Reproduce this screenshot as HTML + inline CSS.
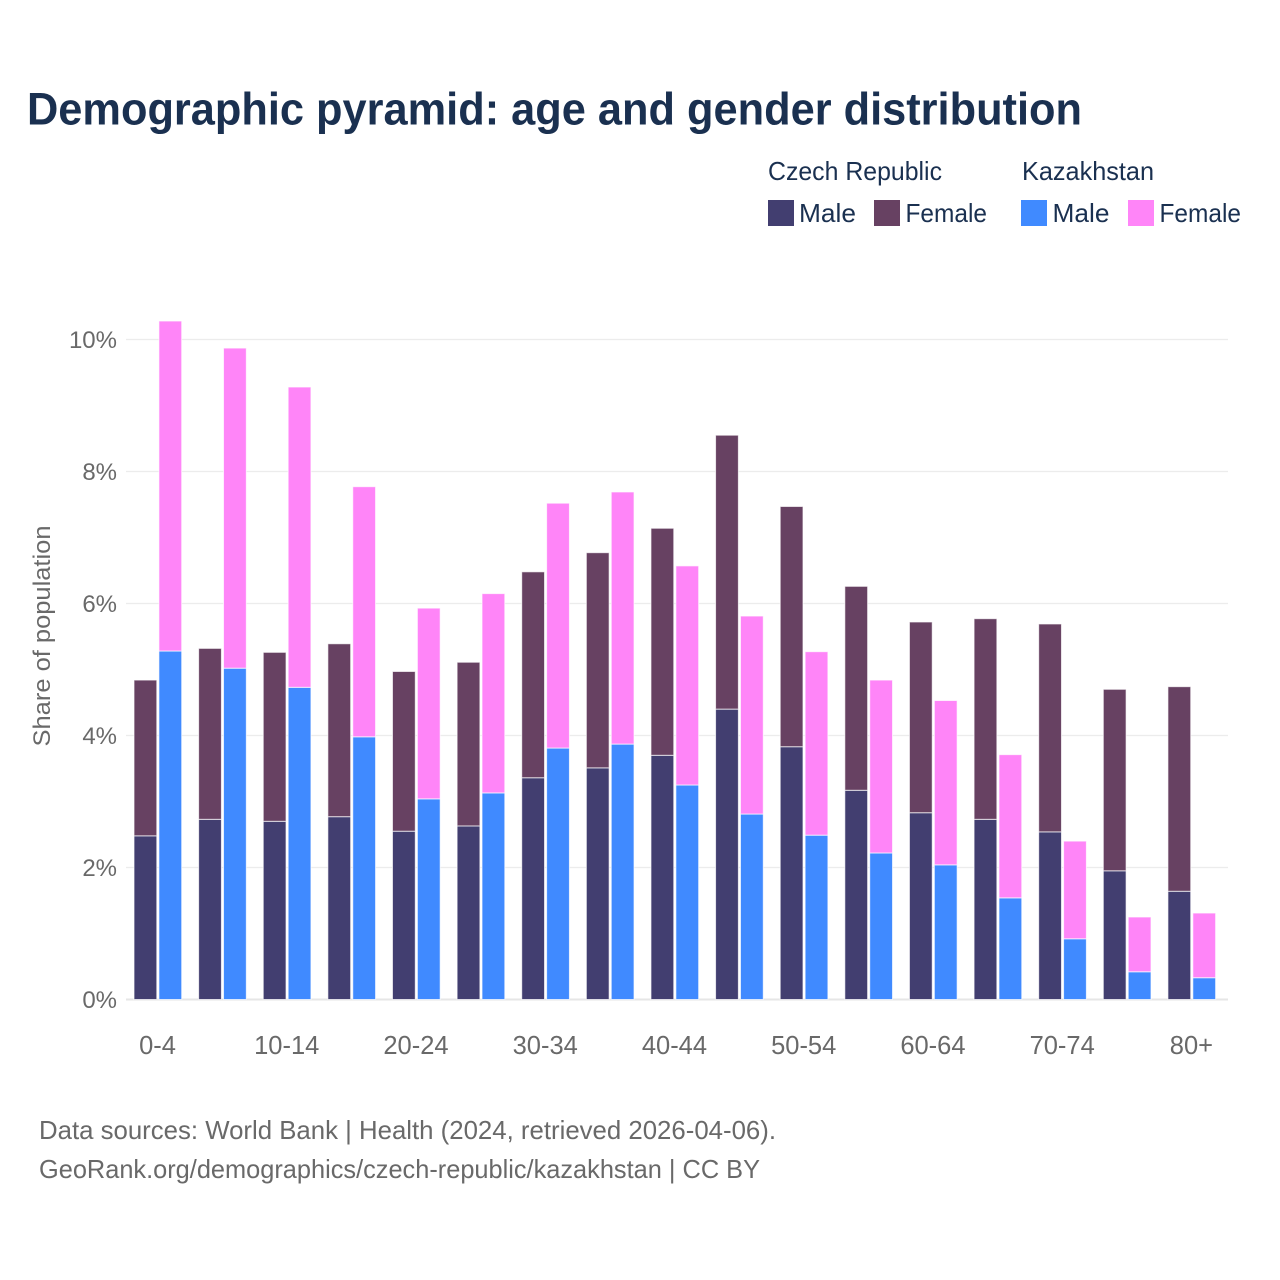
<!DOCTYPE html>
<html lang="en">
<head>
<meta charset="utf-8">
<title>Demographic pyramid: age and gender distribution</title>
<style>
html,body{margin:0;padding:0;background:#fff;}
svg{display:block;}
text{font-family:"Liberation Sans",sans-serif;}
</style>
</head>
<body>
<svg id="chart" width="1280" height="1280" viewBox="0 0 1280 1280" xmlns="http://www.w3.org/2000/svg">
  <rect width="1280" height="1280" fill="#fff"/>
  <text x="27" y="124.5" font-size="45" font-weight="700" fill="#1a3050" textLength="1055" lengthAdjust="spacingAndGlyphs">Demographic pyramid: age and gender distribution</text>

  <g font-size="26" fill="#1a3050">
    <text x="768" y="180" textLength="174" lengthAdjust="spacingAndGlyphs">Czech Republic</text>
    <text x="1022" y="180" textLength="132" lengthAdjust="spacingAndGlyphs">Kazakhstan</text>
    <rect x="768" y="200" width="26" height="26" fill="#423e70"/>
    <text x="799" y="222" textLength="57" lengthAdjust="spacingAndGlyphs">Male</text>
    <rect x="874" y="200" width="26" height="26" fill="#674162"/>
    <text x="905.5" y="222" textLength="81.5" lengthAdjust="spacingAndGlyphs">Female</text>
    <rect x="1021" y="200" width="26" height="26" fill="#408aff"/>
    <text x="1052.5" y="222" textLength="57" lengthAdjust="spacingAndGlyphs">Male</text>
    <rect x="1128" y="200" width="26" height="26" fill="#ff85f8"/>
    <text x="1159.5" y="222" textLength="81.5" lengthAdjust="spacingAndGlyphs">Female</text>
  </g>

  <g id="grid"></g>
  <g id="bars"></g>
  <g id="y-axis"></g>
  <g id="x-axis"></g>

  <text transform="translate(50,636) rotate(-90)" text-anchor="middle" font-size="24" fill="#696969" textLength="221" lengthAdjust="spacingAndGlyphs">Share of population</text>

  <g font-size="26" fill="#696969">
    <text x="39" y="1139" textLength="737" lengthAdjust="spacingAndGlyphs">Data sources: World Bank | Health (2024, retrieved 2026-04-06).</text>
    <text x="39" y="1178" textLength="721" lengthAdjust="spacingAndGlyphs">GeoRank.org/demographics/czech-republic/kazakhstan | CC BY</text>
  </g>
</svg>
<script>
const categories = ["0-4","5-9","10-14","15-19","20-24","25-29","30-34","35-39","40-44","45-49","50-54","55-59","60-64","65-69","70-74","75-79","80+"];
const czechMale = [2.48,2.73,2.70,2.77,2.55,2.63,3.36,3.51,3.70,4.40,3.83,3.17,2.83,2.73,2.54,1.95,1.64];
const czechFemale = [2.36,2.59,2.56,2.62,2.42,2.48,3.12,3.26,3.44,4.15,3.64,3.09,2.89,3.04,3.15,2.75,3.10];
const kazakhMale = [5.28,5.02,4.73,3.98,3.04,3.13,3.81,3.87,3.25,2.81,2.49,2.22,2.04,1.54,0.92,0.42,0.33];
const kazakhFemale = [5.00,4.85,4.55,3.79,2.89,3.02,3.71,3.82,3.32,3.00,2.78,2.62,2.49,2.17,1.48,0.83,0.98];
const yTicks = [0,2,4,6,8,10];

const NS = "http://www.w3.org/2000/svg";
const plotLeft = 126, plotRight = 1228;
const yZero = 999.5, pxPerUnit = 66;
const firstCenter = 157.5, groupStep = 64.62;
const barWidth = 22.8;

function yScale(v){ return yZero - v * pxPerUnit; }
function xScale(i){ return firstCenter + i * groupStep; }

function makeEl(tag, attrs, parent){
  const el = document.createElementNS(NS, tag);
  for (const k in attrs) el.setAttribute(k, attrs[k]);
  parent.appendChild(el);
  return el;
}

const gridG = document.getElementById("grid");
const yG = document.getElementById("y-axis");
yTicks.forEach(function(t){
  const line = makeEl("line", {x1:plotLeft, x2:plotRight, y1:yScale(t), y2:yScale(t), stroke:t===0?"#e6e6e6":"#ececec", "stroke-width":t===0?2:1.2}, gridG);
  
  
  const label = makeEl("text", {x:117, y:yScale(t)+8.5, "text-anchor":"end", "font-size":24, fill:"#696969"}, yG);
  label.textContent = t + "%";
  
  
});

const barsG = document.getElementById("bars");
function drawBar(x, base, value, color, name){
  const top = yScale(base + value);
  const rect = makeEl("rect", {x:x, y:top, width:barWidth, height:yScale(base)-top, fill:color, stroke:"#fff", "stroke-opacity":0.7, "stroke-width":1}, barsG);
  
  
}
categories.forEach(function(c, i){
  const cx = xScale(i);
  const x1 = cx - 23.5;
  const x2 = cx + 1.4;
  drawBar(x1, 0, czechMale[i], "#423e70", "bar-czech-male");
  drawBar(x1, czechMale[i], czechFemale[i], "#674162", "bar-czech-female");
  drawBar(x2, 0, kazakhMale[i], "#408aff", "bar-kazakhstan-male");
  drawBar(x2, kazakhMale[i], kazakhFemale[i], "#ff85f8", "bar-kazakhstan-female");
});

const xG = document.getElementById("x-axis");
categories.forEach(function(c, i){
  if (i % 2 !== 0) return;
  const label = makeEl("text", {x:xScale(i), y:1054, "text-anchor":"middle", "font-size":25.5, fill:"#696969"}, xG);
  label.textContent = c;
  
  
});
</script>
</body>
</html>
